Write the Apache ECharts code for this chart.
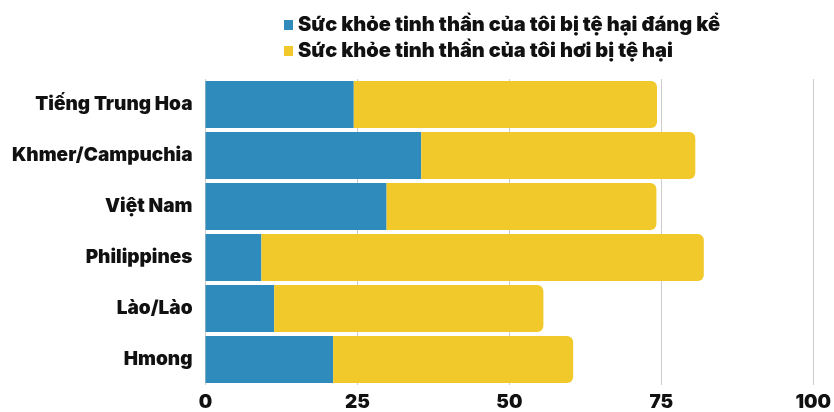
<!DOCTYPE html>
<html><head><meta charset="utf-8">
<script src="https://cdn.jsdelivr.net/npm/echarts@6/dist/echarts.min.js"></script>
<style>html,body{margin:0;padding:0;background:#fff}#c{width:834px;height:412px}</style>
</head><body><div id="c"></div>
<script>
const categories = ["Tiếng Trung Hoa", "Khmer/Campuchia", "Việt Nam", "Philippines", "Lào/Lào", "Hmong"];
const seriesNames = ["Sức khỏe tinh thần của tôi bị tệ hại đáng kể", "Sức khỏe tinh thần của tôi hơi bị tệ hại"];
const significant = [24.4, 35.5, 29.8, 9.2, 11.3, 21.0];
const somewhat = [49.9, 45.1, 44.4, 72.8, 44.3, 39.5];
const xTicks = [0, 25, 50, 75, 100];

const FONT = 'Inter';
const chart = echarts.init(document.getElementById('c'));
chart.setOption({
  animation: false,
  legend: {
    orient: 'vertical', left: 279, top: 10, itemGap: 6,
    itemWidth: 9, itemHeight: 10, icon: 'rect',
    textStyle: { fontFamily: FONT, fontWeight: 900, fontSize: 20, color: '#111' },
    data: seriesNames
  },
  grid: { left: 205.5, right: 16, top: 79, bottom: 25 },
  xAxis: {
    type: 'value', min: 0, max: 100, interval: 25,
    axisLine: { show: false }, axisTick: { show: false },
    splitLine: { lineStyle: { color: '#cccccc', width: 1 } },
    axisLabel: { fontFamily: FONT, fontWeight: 900, fontSize: 19, color: '#111', margin: 8,
      formatter: v => xTicks.includes(v) ? String(v) : '' }
  },
  yAxis: {
    type: 'category', data: categories, inverse: true,
    axisLine: { show: false }, axisTick: { show: false },
    axisLabel: { fontFamily: FONT, fontWeight: 900, fontSize: 19, color: '#111', margin: 13 }
  },
  series: [
    { name: seriesNames[0], type: 'bar', stack: 's', data: significant, barCategoryGap: '8%',
      itemStyle: { color: '#2E8BBB' } },
    { name: seriesNames[1], type: 'bar', stack: 's', data: somewhat, barCategoryGap: '8%',
      itemStyle: { color: '#F2C92A', borderRadius: [0, 6, 6, 0] } }
  ]
});
</script></body></html>
